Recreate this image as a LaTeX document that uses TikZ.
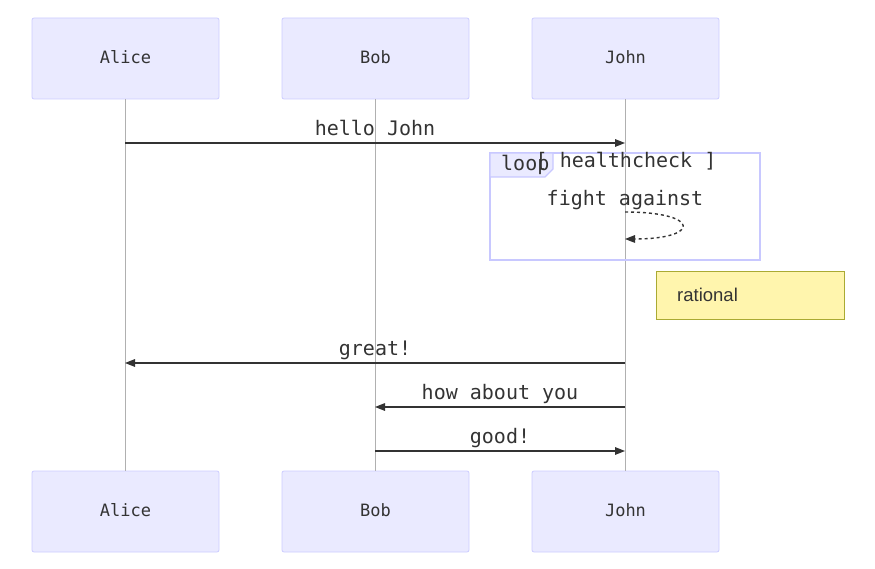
\documentclass[tikz,border=0pt]{standalone}
\usepackage{fontspec}
\setmonofont{DejaVu Sans Mono}
\setsansfont{Liberation Sans}
\usetikzlibrary{arrows.meta}
\definecolor{actfill}{HTML}{EAEAFF}
\definecolor{actline}{HTML}{CCCCFF}
\definecolor{loopline}{HTML}{C8C8FF}
\definecolor{txt}{HTML}{333333}
\definecolor{life}{HTML}{B0B0B0}
\definecolor{notefill}{HTML}{FFF5AD}
\definecolor{noteline}{HTML}{AAAA33}
\tikzset{
  actor/.style={draw=actline, fill=actfill, rounded corners=2pt, line width=0.8pt,
    minimum width=187pt, minimum height=81pt, inner sep=0pt, font=\ttfamily\fontsize{17}{20}\selectfont, text=txt},
  lifeline/.style={draw=life, line width=0.8pt},
  msg/.style={draw=txt, line width=1.4pt, -{Triangle[length=10pt,width=7.5pt]}},
  msglabel/.style={anchor=base, inner sep=0pt, font=\ttfamily\fontsize{20}{24}\selectfont, text=txt},
}
\begin{document}
\begin{tikzpicture}[x=1pt,y=-1pt]
\useasboundingbox (0,0) rectangle (875,569);
% actors
\node[actor] (a) at (125.5,58.5) {};
\node[actor] (b) at (375.5,58.5) {};
\node[actor] (j) at (625.5,58.5) {};
\node[actor] (ab) at (125.5,511.5) {};
\node[actor] (bb) at (375.5,511.5) {};
\node[actor] (jb) at (625.5,511.5) {};
\foreach \n/\t/\x in {a/Alice/125,b/Bob/375,j/John/625,ab/Alice/125,bb/Bob/375,jb/John/625}{
  \node[anchor=base, inner sep=0pt, font=\ttfamily\fontsize{17}{20}\selectfont, text=txt] at ([yshift=-5pt]\n.center) {\t};
}
% lifelines
\draw[lifeline] (a.south) -- (ab.north);
\draw[lifeline] (b.south) -- (bb.north);
\draw[lifeline] (j.south) -- (jb.north);
% loop
\draw[draw=loopline, line width=1.6pt] (490,153) rectangle (760,260);
\draw[draw=loopline, fill=actfill, line width=1.2pt] (490,153) -- (553,153) -- (553,169) -- (545,177) -- (490,177) -- cycle;
\node[msglabel, anchor=base west] (lp) at (501,171) {loop};
\node[msglabel] (hc) at (626,168) {[ healthcheck ]};
% messages
\coordinate (m1a) at (125,143); \coordinate (m1j) at (625,143);
\draw[msg] (m1a) -- (m1j);
\node[msglabel] (l1) at (375,135.5) {hello John};
\node[msglabel] (l2) at (625,205.5) {fight against};
\coordinate (s1) at (625,212); \coordinate (s2) at (625,239);
\draw[draw=txt, line width=1.4pt, dash pattern=on 3pt off 3pt, -{Triangle[length=10pt,width=7.5pt]}]
  (s1) .. controls (701,212) and (701,239) .. (s2);
% note
\node[draw=noteline, fill=notefill, line width=0.8pt, minimum width=188pt, minimum height=48pt, inner sep=0pt] (n) at (750,295) {};
\node[anchor=base west, inner sep=0pt, font=\sffamily\fontsize{18.5}{22}\selectfont, text=txt] (nt) at (677,301.5) {rational};
% later messages
\coordinate (m2j) at (625,363); \coordinate (m2a) at (125,363);
\draw[msg] (m2j) -- (m2a);
\node[msglabel] (l3) at (375,355.5) {great!};
\coordinate (m3j) at (625,407); \coordinate (m3b) at (375,407);
\draw[msg] (m3j) -- (m3b);
\node[msglabel] (l4) at (500,399.5) {how about you};
\coordinate (m4b) at (375,451); \coordinate (m4j) at (625,451);
\draw[msg] (m4b) -- (m4j);
\node[msglabel] (l5) at (500,443.5) {good!};
\end{tikzpicture}
\end{document}
